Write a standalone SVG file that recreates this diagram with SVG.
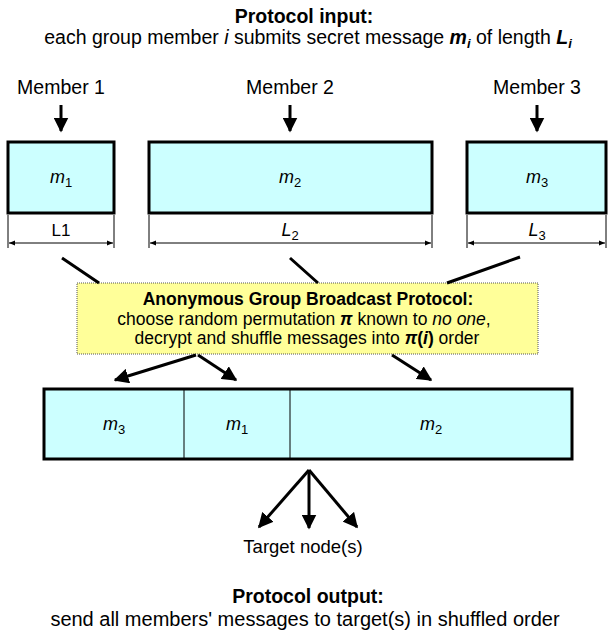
<svg xmlns="http://www.w3.org/2000/svg" width="608" height="633" viewBox="0 0 608 633">
<style>
text{font-family:"Liberation Sans",Arial,sans-serif;fill:#000;text-anchor:middle}
.t{font-size:19.5px}
.y{font-size:17.5px}
.b{font-weight:bold}
.m{font-size:18px;font-style:italic}
.s{font-size:13px;font-style:normal}
.box{fill:#ccffff;stroke:#000;stroke-width:3}
.ln{stroke:#000;stroke-width:3;fill:none}
.dim{stroke:#000;stroke-width:1;fill:none}
</style>
<defs>
<marker id="ah" viewBox="0 0 10 10" refX="9" refY="5" markerWidth="5" markerHeight="5" orient="auto" markerUnits="strokeWidth">
<path d="M0,0L10,5L0,10z" fill="#000"/>
</marker>
<marker id="da" viewBox="0 0 10 10" refX="10" refY="5" markerWidth="10" markerHeight="6" orient="auto-start-reverse" markerUnits="userSpaceOnUse">
<path d="M0,1L10,5L0,9z" fill="#000"/>
</marker>
</defs>
<g id="title">
<text class="t b" x="304" y="23">Protocol input:</text>
<text class="t" x="308" y="44">each group member <tspan font-style="italic">i</tspan> submits secret message <tspan font-weight="bold" font-style="italic">m<tspan font-size="13px" dy="4">i</tspan></tspan><tspan dy="-4"> of length </tspan><tspan font-weight="bold" font-style="italic">L<tspan font-size="13px" dy="4">i</tspan></tspan></text>
</g>
<g id="member1"><text class="t" x="61" y="94">Member 1</text></g>
<g id="member2"><text class="t" x="290" y="94">Member 2</text></g>
<g id="member3"><text class="t" x="537" y="94">Member 3</text></g>
<g id="msg1">
<rect class="box" x="8" y="142" width="106" height="71"/>
<text class="m" x="61" y="183">m<tspan class="s" dy="4">1</tspan></text>
</g>
<g id="msg2">
<rect class="box" x="149" y="142" width="283" height="71"/>
<text class="m" x="290" y="183">m<tspan class="s" dy="4">2</tspan></text>
</g>
<g id="msg3">
<rect class="box" x="467" y="142" width="139" height="71"/>
<text class="m" x="537" y="183">m<tspan class="s" dy="4">3</tspan></text>
</g>
<g id="dims">
<path class="dim" d="M8,215V248M114,215V248M149,215V248M432,215V248M467,215V248M606,215V248"/>
<path class="dim" d="M9,243H113" marker-start="url(#da)" marker-end="url(#da)"/>
<path class="dim" d="M150,243H431" marker-start="url(#da)" marker-end="url(#da)"/>
<path class="dim" d="M468,243H605" marker-start="url(#da)" marker-end="url(#da)"/>
<text x="61" y="236" font-size="17px">L1</text>
<text class="m" x="290" y="236">L<tspan class="s" dy="4">2</tspan></text>
<text class="m" x="537" y="236">L<tspan class="s" dy="4">3</tspan></text>
</g>
<g id="protocol">
<rect x="77" y="283" width="461" height="71" fill="#ffff99" stroke="#555" stroke-width="1" stroke-dasharray="1,1"/>
<text class="y b" x="308" y="305">Anonymous Group Broadcast Protocol:</text>
<text class="y" x="304" y="325">choose random permutation <tspan font-weight="bold" font-style="italic">π</tspan> known to <tspan font-style="italic">no one</tspan>,</text>
<text class="y" x="307" y="344">decrypt and shuffle messages into <tspan font-weight="bold" font-style="italic">π</tspan><tspan font-weight="bold">(<tspan font-style="italic">i</tspan>)</tspan> order</text>
</g>
<g id="shuffled">
<rect class="box" x="44" y="389" width="528" height="70"/>
<path d="M184,389V459M290,389V459" stroke="#000" stroke-width="1"/>
<text class="m" x="114" y="430">m<tspan class="s" dy="4">3</tspan></text>
<text class="m" x="237" y="430">m<tspan class="s" dy="4">1</tspan></text>
<text class="m" x="431" y="430">m<tspan class="s" dy="4">2</tspan></text>
</g>
<g id="target"><text x="303" y="553" font-size="18.5px">Target node(s)</text></g>
<g id="output">
<text class="t b" x="308" y="603">Protocol output:</text>
<text x="305" y="626" font-size="20px">send all members' messages to target(s) in shuffled order</text>
</g>
<g id="connectors">
<path class="ln" d="M61,105V131" marker-end="url(#ah)"/>
<path class="ln" d="M290,105V131" marker-end="url(#ah)"/>
<path class="ln" d="M537,105V131" marker-end="url(#ah)"/>
<path class="ln" d="M62,258L99,283M290,258L318,283M520,257L447,283"/>
<path class="ln" d="M196,355L115,380" marker-end="url(#ah)"/>
<path class="ln" d="M198,355L236,380" marker-end="url(#ah)"/>
<path class="ln" d="M392,355L431,380" marker-end="url(#ah)"/>
<path class="ln" d="M309,470L259,527" marker-end="url(#ah)"/>
<path class="ln" d="M309,470V528" marker-end="url(#ah)"/>
<path class="ln" d="M309,470L357,527" marker-end="url(#ah)"/>
</g>
</svg>
